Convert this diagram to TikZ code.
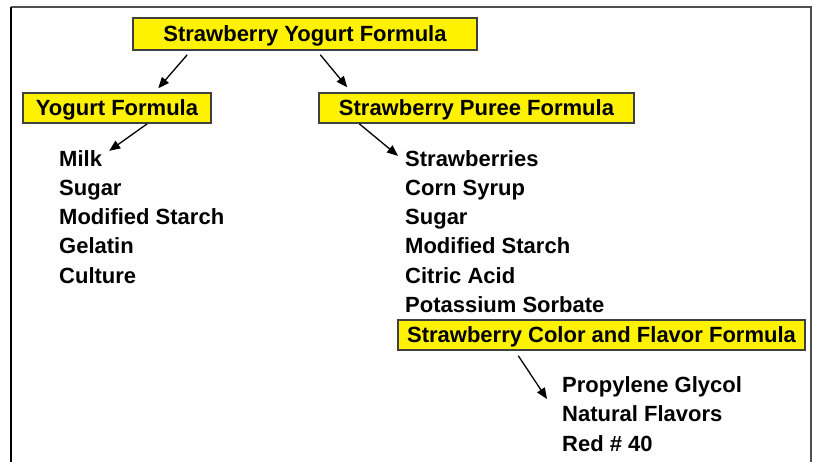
\documentclass[tikz,border=0pt]{standalone}
\usepackage{fontspec}
\setmainfont{Liberation Sans}
\usetikzlibrary{arrows.meta}
\definecolor{boxline}{RGB}{64,64,64}
\definecolor{framegray}{RGB}{80,80,80}
\tikzset{
  fbox/.style={draw=boxline, line width=1.5pt, fill=yellow, inner sep=0pt,
    text height=15.5pt, text depth=0pt, minimum height=30pt,
    font=\fontsize{22}{26}\selectfont\bfseries},
  item/.style={anchor=base west, inner sep=0pt, font=\fontsize{22}{26}\selectfont\bfseries},
  arr/.style={line width=1.3pt, -{Triangle[length=11pt,width=9pt]}}
}
\begin{document}
\begin{tikzpicture}[x=1pt,y=1pt]
\useasboundingbox (0,0) rectangle (813,-461);
% frame
\draw[line width=2pt, framegray] (11,-7) -- (811,-7) -- (811,-462);
\draw[line width=2pt, black] (11,-462) -- (11,-7);
% boxes
\node[fbox, minimum width=344pt, minimum height=32pt] (top) at (305,-34) {Strawberry Yogurt Formula};
\node[fbox, minimum width=188pt] (yog) at (117,-108) {Yogurt Formula};
\node[fbox, minimum width=315pt] (pur) at (476.5,-108) {Strawberry Puree Formula};
\node[fbox, minimum width=407pt] (col) at (601.5,-335) {Strawberry Color and Flavor Formula};
% left list
\node[item] (milk) at (59,-166) {Milk};
\node[item] (lsug) at (59,-195.3) {Sugar};
\node[item] (lmod) at (59,-224.6) {Modified Starch};
\node[item] (gel) at (59,-253.9) {Gelatin};
\node[item] (cul) at (59,-283.2) {Culture};
% right list
\node[item] (sb) at (405,-166) {Strawberries};
\node[item] (corn) at (405,-195.3) {Corn Syrup};
\node[item] (rsug) at (405,-224.6) {Sugar};
\node[item] (rmod) at (405,-253.9) {Modified Starch};
\node[item] (cit) at (405,-283.2) {Citric Acid};
\node[item] (pot) at (405,-312.5) {Potassium Sorbate};
% color list
\node[item] (pg) at (562,-392) {Propylene Glycol};
\node[item] (nf) at (562,-421.5) {Natural Flavors};
\node[item] (red) at (562,-451) {Red \# 40};
% arrows
\draw[arr] ([xshift=55pt,yshift=-4pt]top.south west) -- ([xshift=136pt,yshift=4pt]yog.north west);
\draw[arr] ([xshift=188pt,yshift=-4pt]top.south west) -- ([xshift=29pt,yshift=5pt]pur.north west);
\draw[arr] ([xshift=125pt]yog.south west) -- ([xshift=7pt,yshift=-1pt]milk.north east);
\draw[arr] ([xshift=41pt]pur.south west) -- ([xshift=-7pt,yshift=-6pt]sb.north west);
\draw[arr] ([xshift=121pt,yshift=-5pt]col.south west) -- ([xshift=-15pt,yshift=-7pt]pg.base west);
\end{tikzpicture}
\end{document}
